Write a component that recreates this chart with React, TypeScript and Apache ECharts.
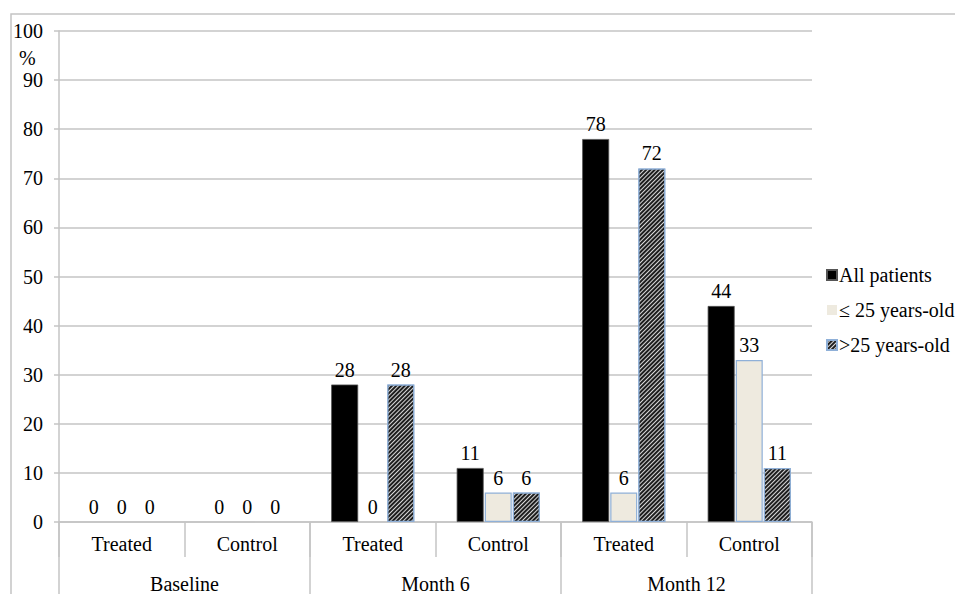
import React, { useEffect, useRef } from "react";
import * as echarts from "echarts";

const subCategories = ["Treated", "Control", "Treated", "Control", "Treated", "Control"];
const groups = ["Baseline", "Month 6", "Month 12"];
const allPatients = [0, 0, 28, 11, 78, 44];
const under25 = [0, 0, 0, 6, 6, 33];
const over25 = [0, 0, 28, 6, 72, 11];
const yTicks = [0, 10, 20, 30, 40, 50, 60, 70, 80, 90, 100];

const FONT = "Liberation Serif";
const GRID = "#c4c4c4";

export default function App() {
  const ref = useRef<HTMLDivElement>(null);
  useEffect(() => {
    if (!ref.current) return;
    const chart = echarts.init(ref.current, undefined, { renderer: "svg" });
    const label = {
      show: true,
      position: "top" as const,
      distance: 5,
      color: "#000",
      fontFamily: FONT,
      fontSize: 20,
    };
    const toData = (arr: number[], bw: number) =>
      arr.map((v) => ({ value: v, itemStyle: { borderWidth: v === 0 ? 0 : bw } }));
    chart.setOption({
      animation: false,
      backgroundColor: "#fff",
      textStyle: { fontFamily: FONT },
      graphic: [
        {
          type: "rect",
          shape: { x: 11, y: 14, width: 1000, height: 700 },
          style: { fill: "none", stroke: GRID, lineWidth: 1.5 },
          silent: true,
          z: -10,
        },
        {
          type: "text",
          left: 19,
          top: 48,
          style: { text: "%", fontFamily: FONT, fontSize: 20, fill: "#000" },
        },
      ],
      legend: {
        orient: "vertical",
        left: 821,
        top: 260,
        itemWidth: 10,
        itemHeight: 10,
        itemGap: 15,
        icon: "rect",
        textStyle: { fontFamily: FONT, fontSize: 20, color: "#000", padding: [0, 0, 0, -3] },
        data: [
          { name: "All patients" },
          { name: "\u2264 25 years-old", itemStyle: { borderWidth: 0 } },
          { name: ">25 years-old" },
        ],
      },
      grid: { left: 59, right: 143, top: 31, bottom: 67, containLabel: false },
      xAxis: [
        {
          type: "category",
          data: subCategories,
          position: "bottom",
          axisLine: { show: true, lineStyle: { color: GRID, width: 1.5 } },
          axisTick: { show: true, interval: 0, length: 35, lineStyle: { color: GRID, width: 1.5 } },
          axisLabel: { interval: 0, margin: 12, color: "#000", fontFamily: FONT, fontSize: 20 },
        },
        {
          type: "category",
          data: groups,
          position: "bottom",
          axisLine: { show: false },
          axisTick: { show: true, interval: 0, length: 80, lineStyle: { color: GRID, width: 1.5 } },
          axisLabel: { interval: 0, margin: 52, color: "#000", fontFamily: FONT, fontSize: 20 },
        },
      ],
      yAxis: {
        type: "value",
        min: 0,
        max: 100,
        interval: 10,
        axisLine: { show: true, lineStyle: { color: GRID, width: 1.5 } },
        axisTick: { show: true, length: 5, inside: false, lineStyle: { color: GRID, width: 1.5 } },
        splitLine: { show: true, lineStyle: { color: GRID, width: 1.5 } },
        axisLabel: {
          margin: 16,
          color: "#000",
          fontFamily: FONT,
          fontSize: 20,
          formatter: (v: number) => (yTicks.includes(v) ? String(v) : ""),
        },
      },
      series: [
        {
          name: "All patients",
          type: "bar",
          data: toData(allPatients, 0.8),
          barWidth: 27,
          barGap: "4%",
          itemStyle: { color: "#000", borderColor: "#555", borderWidth: 0.8 },
          label,
        },
        {
          name: "\u2264 25 years-old",
          type: "bar",
          data: toData(under25, 1.2),
          barWidth: 27,
          barGap: "4%",
          itemStyle: { color: "#eeeadf", borderColor: "#8fb0d8", borderWidth: 1.2 },
          label,
        },
        {
          name: ">25 years-old",
          type: "bar",
          data: toData(over25, 1.2),
          barWidth: 27,
          barGap: "4%",
          itemStyle: {
            color: "#d8d8d8",
            borderColor: "#8fb0d8",
            borderWidth: 1.2,
            decal: {
              symbol: "rect",
              symbolSize: 1,
              color: "#1e1e1e",
              dashArrayX: [1, 0],
              dashArrayY: [1.3, 1],
              rotation: -Math.PI / 4,
            },
          },
          label,
        },
      ],
    });
    return () => chart.dispose();
  }, []);
  return <div ref={ref} style={{ width: 955, height: 594, position: "absolute", left: 0, top: 0 }} />;
}
